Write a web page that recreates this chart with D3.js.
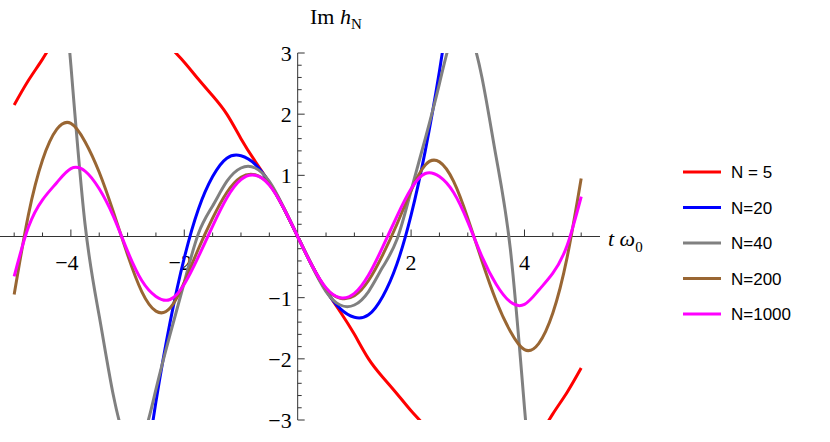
<!DOCTYPE html>
<html><head><meta charset="utf-8">
<script src="https://cdn.jsdelivr.net/npm/d3@7"></script>
<style>body{margin:0;background:#fff}</style></head>
<body><svg id="c" width="830" height="442"></svg>
<script>
const tValues = [-5,-4.75,-4.5,-4.25,-4,-3.75,-3.5,-3.25,-3,-2.75,-2.5,-2.25,-2,-1.75,-1.5,-1.25,-1,-0.75,-0.5,-0.25,0,0.25,0.5,0.75,1,1.25,1.5,1.75,2,2.25,2.5,2.75,3,3.25,3.5,3.75,4,4.25,4.5,4.75,5];
const seriesNames = ["N = 5","N=20","N=40","N=200","N=1000"];
const n5 = [2.15,2.55,2.9,3.25,3.45,3.6,3.66,3.68,3.65,3.55,3.35,3.1,2.85,2.57,2.3,2.0,1.6,1.23,0.88,0.47,0,-0.47,-0.88,-1.23,-1.6,-2.0,-2.3,-2.57,-2.85,-3.1,-3.35,-3.55,-3.65,-3.68,-3.66,-3.6,-3.45,-3.25,-2.9,-2.55,-2.15];
const n20 = [null,null,null,null,null,null,null,-7.5,-5.8,-4.2,-2.7,-1.4,-0.35,0.45,0.98,1.28,1.32,1.18,0.88,0.47,0,-0.47,-0.88,-1.18,-1.32,-1.28,-0.98,-0.45,0.35,1.4,2.7,4.2,5.8,7.5,null,null,null,null,null,null,null];
const n40 = [null,null,null,5.5,2.8,0.2,-1.3,-2.6,-3.4,-3.35,-2.5,-1.6,-0.75,0.05,0.5,0.9,1.12,1.12,0.9,0.48,0,-0.48,-0.9,-1.12,-1.12,-0.9,-0.5,-0.05,0.75,1.6,2.5,3.35,3.4,2.6,1.3,-0.2,-2.8,-5.5,null,null,null];
const n200 = [-0.95,0.35,1.25,1.75,1.85,1.55,1.05,0.4,-0.3,-0.9,-1.22,-1.17,-0.75,-0.2,0.3,0.72,0.97,1.01,0.85,0.47,0,-0.47,-0.85,-1.01,-0.97,-0.72,-0.3,0.2,0.75,1.17,1.22,0.9,0.3,-0.4,-1.05,-1.55,-1.85,-1.75,-1.25,-0.35,0.95];
const n1000 = [-0.65,0.15,0.6,0.88,1.11,1.07,0.78,0.33,-0.24,-0.72,-0.98,-1.03,-0.78,-0.33,0.17,0.63,0.93,1.0,0.84,0.47,0,-0.47,-0.84,-1.0,-0.93,-0.63,-0.17,0.33,0.78,1.03,0.98,0.72,0.24,-0.33,-0.78,-1.07,-1.11,-0.88,-0.6,-0.15,0.65];
const xTickLabels = [-4,-2,2,4];
const yTickLabels = [-3,-2,-1,1,2,3];
const colors = ["#ff0000","#0000ff","#808080","#996633","#ff00ff"];
const allSeries = [n5,n20,n40,n200,n1000];

const svg = d3.select("#c");
const x = d3.scaleLinear().domain([-5.25,5.3]).range([0,598.2]);
const y = d3.scaleLinear().domain([-3,3]).range([420,53]);
const x0 = x(0), y0 = y(0);
svg.append("defs").append("clipPath").attr("id","cp").append("rect")
  .attr("x",0).attr("y",y(3)).attr("width",600).attr("height",y(-3)-y(3));

const ax = svg.append("g").attr("stroke","#333").attr("stroke-width",1);
ax.append("line").attr("x1",0).attr("x2",600).attr("y1",y0).attr("y2",y0);
ax.append("line").attr("x1",x0).attr("x2",x0).attr("y1",y(3)).attr("y2",y(-3));
d3.range(-10,11).forEach(i=>{const v=i/2; if(v===0)return; const major=Number.isInteger(v/2);
  ax.append("line").attr("x1",x(v)).attr("x2",x(v)).attr("y1",y0).attr("y2",y0-(major?7:4));});
d3.range(-15,16).forEach(i=>{const v=i/5; if(i===0)return; const major=i%5===0;
  ax.append("line").attr("x1",x0).attr("x2",x0+(major?7:4)).attr("y1",y(v)).attr("y2",y(v));});
const fmt = v => (v<0?"\u2212":"")+Math.abs(v);
svg.selectAll(".xl").data(xTickLabels).join("text").attr("x",d=>x(d)-(d<0?4:0)).attr("y",y0+33)
  .attr("text-anchor","middle").attr("font-family","Liberation Serif").attr("font-size",22).text(fmt);
svg.selectAll(".yl").data(yTickLabels).join("text").attr("x",x0-6).attr("y",d=>y(d)+8)
  .attr("text-anchor","end").attr("font-family","Liberation Serif").attr("font-size",22).text(fmt);

const line = d3.line().defined(d=>d[1]!==null).x(d=>x(d[0])).y(d=>y(d[1])).curve(d3.curveNatural);
const g = svg.append("g").attr("clip-path","url(#cp)");
allSeries.forEach((s,i)=>{
  g.append("path").datum(tValues.map((t,j)=>[t,s[j]])).attr("d",line)
   .attr("fill","none").attr("stroke",colors[i]).attr("stroke-width",3);
});

const yl = svg.append("text").attr("x",310).attr("y",24).attr("font-family","Liberation Serif").attr("font-size",22);
yl.append("tspan").text("Im ");
yl.append("tspan").attr("font-style","italic").text("h");
yl.append("tspan").attr("font-size",15).attr("dy",5).text("N");
const xl = svg.append("text").attr("x",608).attr("y",246).attr("font-family","Liberation Serif").attr("font-size",22);
xl.append("tspan").attr("font-style","italic").text("t ω");
xl.append("tspan").attr("font-size",15).attr("dy",6).text("0");

seriesNames.forEach((nm,i)=>{
  const yy = 172 + i*35.5;
  svg.append("line").attr("x1",683).attr("x2",721).attr("y1",yy).attr("y2",yy).attr("stroke",colors[i]).attr("stroke-width",3);
  svg.append("text").attr("x",731).attr("y",yy+6).attr("font-family","Liberation Sans").attr("font-size",17).text(nm);
});
</script></body></html>
